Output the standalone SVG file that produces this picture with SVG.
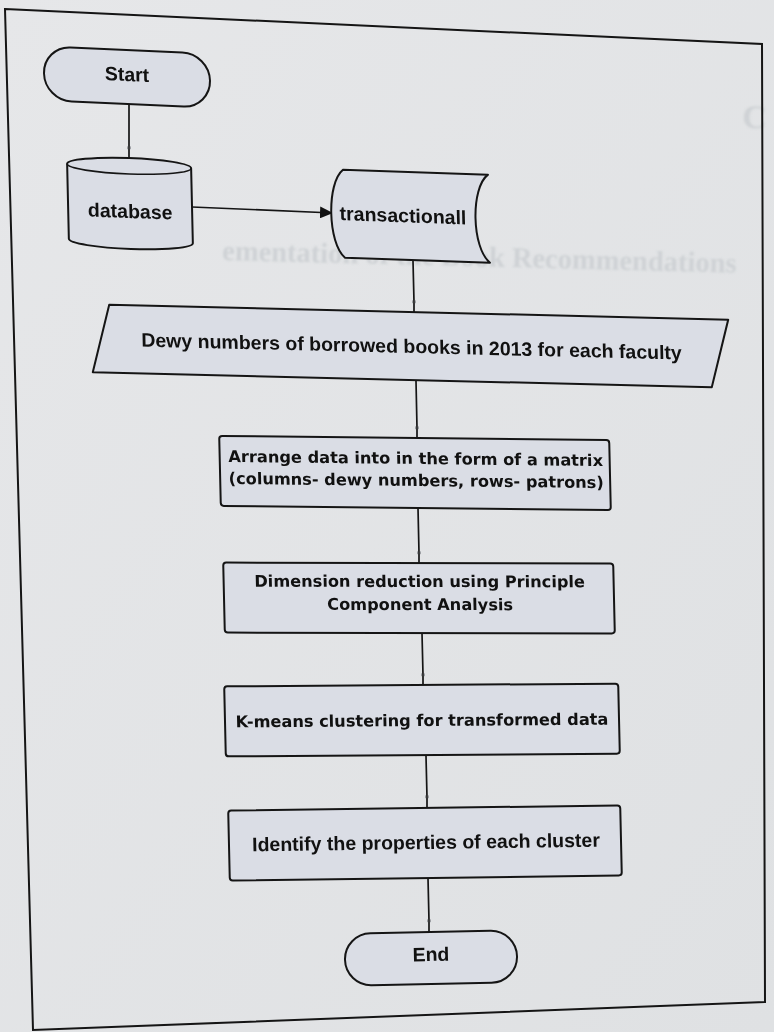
<svg xmlns="http://www.w3.org/2000/svg" width="774" height="1032" viewBox="0 0 774 1032">
  <defs>
    <linearGradient id="paper" x1="0" y1="0" x2="1" y2="1">
      <stop offset="0" stop-color="#e6e7e9"/>
      <stop offset="1" stop-color="#dfe1e3"/>
    </linearGradient>
    <filter id="soft" x="-5%" y="-20%" width="110%" height="140%">
      <feGaussianBlur stdDeviation="0.9"/>
    </filter>
    <!-- solid arrowhead -->
    <marker id="arrow" markerUnits="userSpaceOnUse" markerWidth="14" markerHeight="12" refX="13" refY="6" orient="auto">
      <path d="M0,0 L13,6 L0,12 Z" fill="#111"/>
    </marker>
    <!-- tiny tick left by a collapsed arrowhead -->
    <marker id="tick" markerUnits="userSpaceOnUse" markerWidth="8" markerHeight="8" refX="4" refY="4" orient="0" overflow="visible">
      <path d="M2.6,2.4 L2.6,5.2 M5.4,2.4 L5.4,5.2" stroke="#8c8f94" stroke-width="0.9" fill="none"/>
    </marker>
    <style>
      .shape { fill: #dadde5; stroke: #151515; stroke-width: 2; stroke-linejoin: round; }
      .edge { fill: none; stroke: #151515; stroke-width: 1.7; }
      .lab { font-family: "Liberation Sans", Arial, sans-serif; font-weight: bold; font-size: 19.5px; fill: #111; text-anchor: middle; }
      .lab2 { font-family: "DejaVu Sans", Verdana, sans-serif; font-weight: bold; font-size: 16.2px; fill: #111; text-anchor: middle; }
      .ghost { font-family: "Liberation Serif", "Times New Roman", serif; font-weight: bold; fill: #cfd2d5; }
    </style>
  </defs>

  <!-- paper -->
  <rect x="0" y="0" width="774" height="1032" fill="url(#paper)"/>

  <!-- show-through from the following sheet -->
  <g filter="url(#soft)">
    <text class="ghost" font-size="28.5" transform="translate(222,260) rotate(1.4)">ementation of the Book Recommendations</text>
    <text class="ghost" font-size="34" transform="translate(742,128) rotate(1.4)">C</text>
  </g>

  <!-- page frame -->
  <polygon points="5,9 762,44 765,1002 33,1030" fill="none" stroke="#151515" stroke-width="2"/>

  <!-- connectors -->
  <g id="connectors">
    <path class="edge" d="M129,104 L129,148 L129,159" marker-mid="url(#tick)"/>
    <path class="edge" d="M192,207 L333,213" marker-end="url(#arrow)"/>
    <path class="edge" d="M413,261 L414,302 L414,312" marker-mid="url(#tick)"/>
    <path class="edge" d="M416,381 L417,428 L417,438" marker-mid="url(#tick)"/>
    <path class="edge" d="M418,508 L419,553 L419,563" marker-mid="url(#tick)"/>
    <path class="edge" d="M422,633 L423,675 L423,686" marker-mid="url(#tick)"/>
    <path class="edge" d="M426,756 L427,797 L427,808" marker-mid="url(#tick)"/>
    <path class="edge" d="M428,878 L429,921 L429,932" marker-mid="url(#tick)"/>
  </g>

  <!-- Start terminal -->
  <g id="start" transform="matrix(1 0.044 0.023 1 127 77)">
    <rect class="shape" x="-83" y="-27" width="166" height="54" rx="27"/>
    <text class="lab" x="0" y="4">Start</text>
  </g>

  <!-- database cylinder -->
  <g id="database" transform="matrix(1 0.035 0.023 1 130 204)">
    <path class="shape" d="M-62,-38 A62,8 0 0 1 62,-38 L62,37 A62,8 0 0 1 -62,37 Z"/>
    <path d="M-62,-38 A62,8 0 0 0 62,-38" fill="none" stroke="#151515" stroke-width="1.6"/>
    <text class="lab" x="0" y="14">database</text>
  </g>

  <!-- stored data: transactionall -->
  <g id="transactionall" transform="matrix(1 0.034 0.023 1 411 216)">
    <path class="shape" d="M-67,-44 L78,-44 C60,-30 60,30 78,44 L-67,44 C-84,30 -84,-30 -67,-44 Z"/>
    <text class="lab" x="-8" y="6.5">transactionall</text>
  </g>

  <!-- input data -->
  <g id="dewy" transform="matrix(1 0.024 0.023 1 411 346)">
    <polygon class="shape" points="-301,-34 318,-34 300,34 -319,34"/>
    <text class="lab" x="0.5" y="7">Dewy numbers of borrowed books in 2013 for each faculty</text>
  </g>

  <!-- process: arrange -->
  <g id="arrange" transform="matrix(1 0.011 0.023 1 415 473)">
    <rect class="shape" x="-195" y="-35" width="390" height="70" rx="3"/>
    <text class="lab2" x="1" y="-9">Arrange data into in the form of a matrix</text>
    <text class="lab2" x="1" y="13">(columns- dewy numbers, rows- patrons)</text>
  </g>

  <!-- process: dimension reduction -->
  <g id="pca" transform="matrix(1 0.002 0.023 1 419 598)">
    <rect class="shape" x="-195" y="-35" width="390" height="70" rx="3"/>
    <text class="lab2" x="1" y="-11">Dimension reduction using Principle</text>
    <text class="lab2" x="1" y="12">Component Analysis</text>
  </g>

  <!-- process: k-means -->
  <g id="kmeans" transform="matrix(1 -0.007 0.023 1 422 720)">
    <rect class="shape" x="-197" y="-35" width="394" height="70" rx="3"/>
    <text class="lab2" x="0" y="6">K-means clustering for transformed data</text>
  </g>

  <!-- process: identify -->
  <g id="identify" transform="matrix(1 -0.013 0.023 1 425 843)">
    <rect class="shape" x="-196" y="-35" width="392" height="70" rx="3"/>
    <text class="lab" x="1" y="6">Identify the properties of each cluster</text>
  </g>

  <!-- End terminal -->
  <g id="end" transform="matrix(1 -0.02 0.023 1 431 958)">
    <rect class="shape" x="-86" y="-26" width="172" height="52" rx="26"/>
    <text class="lab" x="0" y="3">End</text>
  </g>
</svg>
